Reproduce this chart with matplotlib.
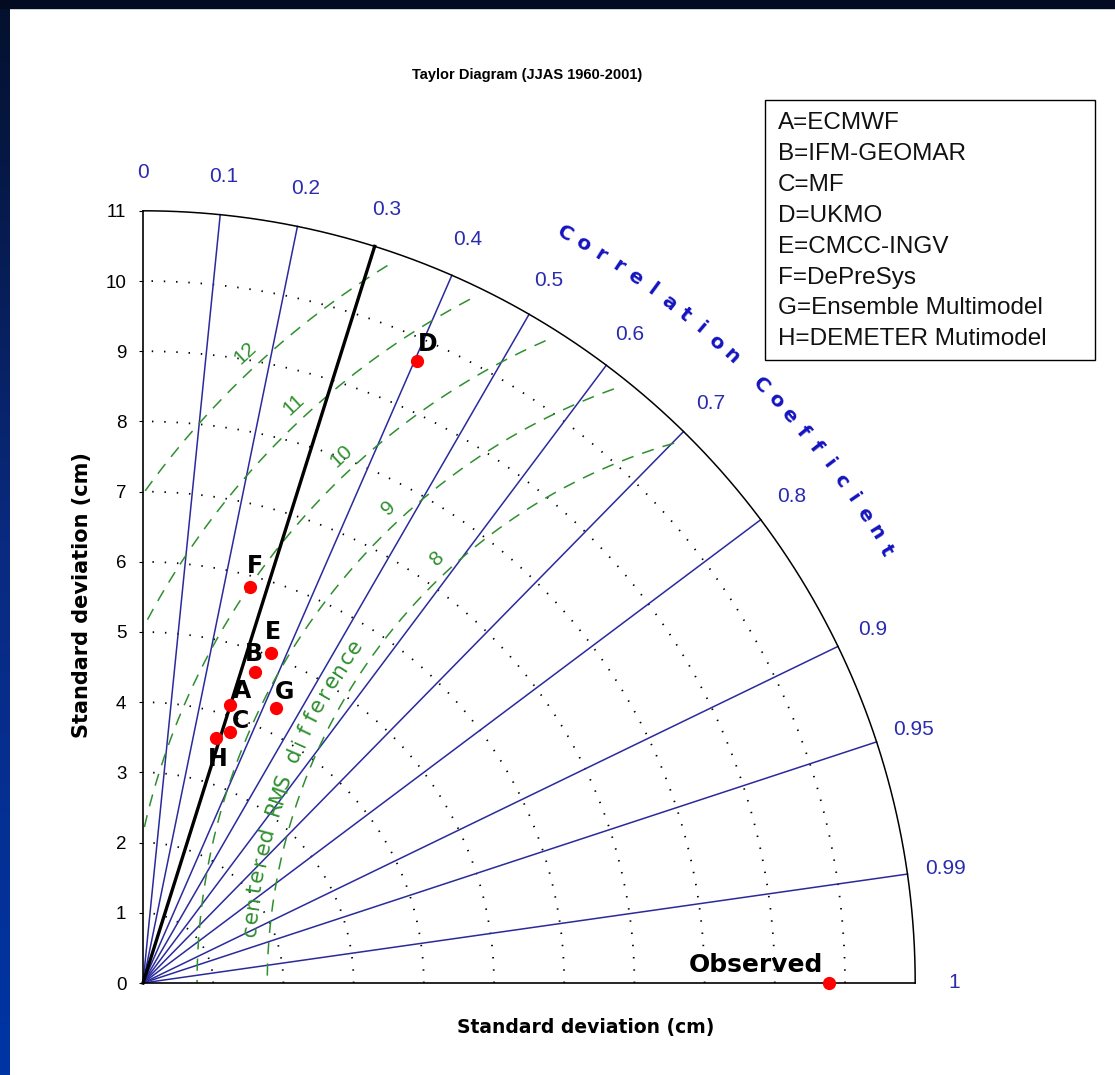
import numpy as np
import matplotlib

matplotlib.use("Agg")
import matplotlib.pyplot as plt  # noqa: E402
from matplotlib.patches import Rectangle  # noqa: E402

plt.rcParams["font.family"] = ["Liberation Sans", "DejaVu Sans"]

# --- data ------------------------------------------------------------------
model_codes = ["A", "B", "C", "D", "E", "F", "G", "H"]
model_names = ["ECMWF", "IFM-GEOMAR", "MF", "UKMO", "CMCC-INGV", "DePreSys",
               "Ensemble Multimodel", "DEMETER Mutimodel"]
model_std = [4.15, 4.71, 3.79, 9.68, 5.04, 5.84, 4.35, 3.64]
model_corr = [0.299, 0.340, 0.327, 0.403, 0.361, 0.260, 0.434, 0.286]
obs_std = 9.77

corr_ticks = [0, 0.1, 0.2, 0.3, 0.4, 0.5, 0.6, 0.7, 0.8, 0.9, 0.95, 0.99, 1]
corr_tick_labels = ["0", "0.1", "0.2", "0.3", "0.4", "0.5", "0.6", "0.7",
                    "0.8", "0.9", "0.95", "0.99", "1"]
std_ticks = list(range(0, 12))
std_circles = list(range(1, 11))
rms_levels = [8, 9, 10, 11, 12]
sig_corr = 0.3
max_std = 11

# --- styling ------------------------------------------------------------------
BLUE = "#2a2a9c"
TXT_BLUE = "#2b2bb0"
GREEN = "#2f8f2f"
HEAVY = ["DejaVu Sans"]
W, H = 1115, 1075
PX = 100 / 72  # pixels per point at dpi 100

fig = plt.figure(figsize=(W / 100, H / 100), dpi=100, facecolor="white")

# slide frame: dark strip on top, blue gradient on the left
fig.patches.append(Rectangle((0, 1 - 8 / H), 1, 8 / H, transform=fig.transFigure,
                             color="#020b22", zorder=0))
gax = fig.add_axes([0, 0, 10 / W, 1 - 8 / H])
gax.imshow(np.linspace(0, 1, 256).reshape(-1, 1), aspect="auto",
           cmap=matplotlib.colors.LinearSegmentedColormap.from_list(
               "frame", ["#04112e", "#0a2a80", "#0035a5"]))
gax.set_axis_off()

unit = 70.2  # pixels per std unit
ax = fig.add_axes([143 / W, (H - 983) / H, max_std * unit / W, max_std * unit / H])
ax.set_xlim(0, max_std)
ax.set_ylim(0, max_std)
ax.set_facecolor("none")
for s in ("top", "right"):
    ax.spines[s].set_visible(False)
ax.spines["left"].set_linewidth(1.2)
ax.spines["bottom"].set_linewidth(1.2)
ax.set_xticks([])
ax.set_yticks(std_ticks)
ax.set_yticklabels([str(t) for t in std_ticks], fontsize=13.5)
ax.tick_params(axis="y", length=3, pad=9)

theta = np.linspace(0, np.pi / 2, 400)

# std dev dotted circles
for r in std_circles:
    ax.plot(r * np.cos(theta), r * np.sin(theta), color="black", lw=1.3,
            ls=(0, (0.8, 6)), zorder=1)

# outer arc
ax.plot(max_std * np.cos(theta), max_std * np.sin(theta), color="black", lw=1.1,
        clip_on=False, zorder=3)

# correlation rays
for c in corr_ticks[1:-1]:
    a = np.arccos(c)
    if c == sig_corr:
        ax.plot([0, max_std * np.cos(a)], [0, max_std * np.sin(a)], color="black",
                lw=2.4, zorder=3, clip_on=False)
    else:
        ax.plot([0, max_std * np.cos(a)], [0, max_std * np.sin(a)], color=BLUE,
                lw=1.1, zorder=2, clip_on=False)

# correlation tick labels
for c, lab in zip(corr_ticks, corr_tick_labels):
    a = np.arccos(c)
    ax.text(11.55 * np.cos(a), 11.55 * np.sin(a), lab, color=TXT_BLUE, fontsize=15,
            ha="center", va="center", clip_on=False)

# centered RMS difference circles
phi = np.linspace(0, np.pi, 1200)
for r in rms_levels:
    x = obs_std + r * np.cos(phi)
    y = r * np.sin(phi)
    keep = (x >= 0) & (np.hypot(x, y) <= 10.8)
    ax.plot(x[keep], y[keep], color=GREEN, lw=1.1, ls=(0, (8, 6)), zorder=2)
    la = np.deg2rad(132.8)
    ax.text(obs_std + (r + 0.23) * np.cos(la), (r + 0.23) * np.sin(la), str(r),
            color=GREEN, fontsize=15, rotation=42.8, ha="center", va="center")


def arc_text(text, cx, cy, radius, start_deg, step_deg, **kw):
    for i, ch in enumerate(text):
        if ch == " ":
            continue
        ang = start_deg - i * step_deg
        ar = np.deg2rad(ang)
        ax.text(cx + radius * np.cos(ar), cy + radius * np.sin(ar), ch,
                rotation=ang - 90, rotation_mode="anchor", ha="center",
                va="center", clip_on=False, **kw)


arc_text("Correlation Coefficient", 0, 0, 12.25, 60.6, 1.38,
         color="#1414c0", fontsize=14.5, fontweight="bold", family=HEAVY)
arc_text("centered RMS difference", obs_std, 0, 8.28, 174.8, 1.37,
         color=GREEN, fontsize=15.5, family=HEAVY)

# model points
label_offsets = [(12, 14), (-2, 18), (10, 11), (11, 17), (2, 21), (5, 21),
                 (9, 16), (2, -21)]
std = np.array(model_std)
cor = np.array(model_corr)
mx = std * cor
my = std * np.sqrt(1 - cor ** 2)
ax.plot(mx, my, "o", color="red", ms=8.5, mec="red", zorder=5, clip_on=False)
for code, x, y, (dx, dy) in zip(model_codes, mx, my, label_offsets):
    ax.annotate(code, (x, y), xytext=(dx / PX, dy / PX), textcoords="offset points",
                ha="center", va="center", fontsize=17, fontweight="bold",
                family=HEAVY, zorder=6)

ax.plot([obs_std], [0], "o", color="red", ms=8.5, zorder=5, clip_on=False)
ax.annotate("Observed", (obs_std, 0), xytext=(-73 / PX, 18 / PX),
            textcoords="offset points", ha="center", va="center", fontsize=18,
            fontweight="bold", family=HEAVY, zorder=6)

# titles
fig.text(527 / W, 1 - 75 / H, "Taylor Diagram (JJAS 1960-2001)", ha="center",
         va="center", fontsize=10.5, fontweight="bold")
fig.text(586 / W, 1 - 1028 / H, "Standard deviation (cm)", ha="center",
         va="center", fontsize=13.5, fontweight="bold", family=HEAVY)
fig.text(82 / W, 1 - 595 / H, "Standard deviation (cm)", ha="center",
         va="center", fontsize=15, fontweight="bold", family=HEAVY, rotation=90)

# legend box
fig.patches.append(Rectangle((765 / W, 1 - 360 / H), 330 / W, 260 / H,
                             transform=fig.transFigure, fill=False,
                             edgecolor="black", lw=1.0))
for i, (code, name) in enumerate(zip(model_codes, model_names)):
    fig.text(778 / W, 1 - (123 + i * 30.9) / H, f"{code}={name}", ha="left",
             va="center", fontsize=17.5, color="#111111")

fig.savefig("out.png", dpi=100, facecolor="white")
